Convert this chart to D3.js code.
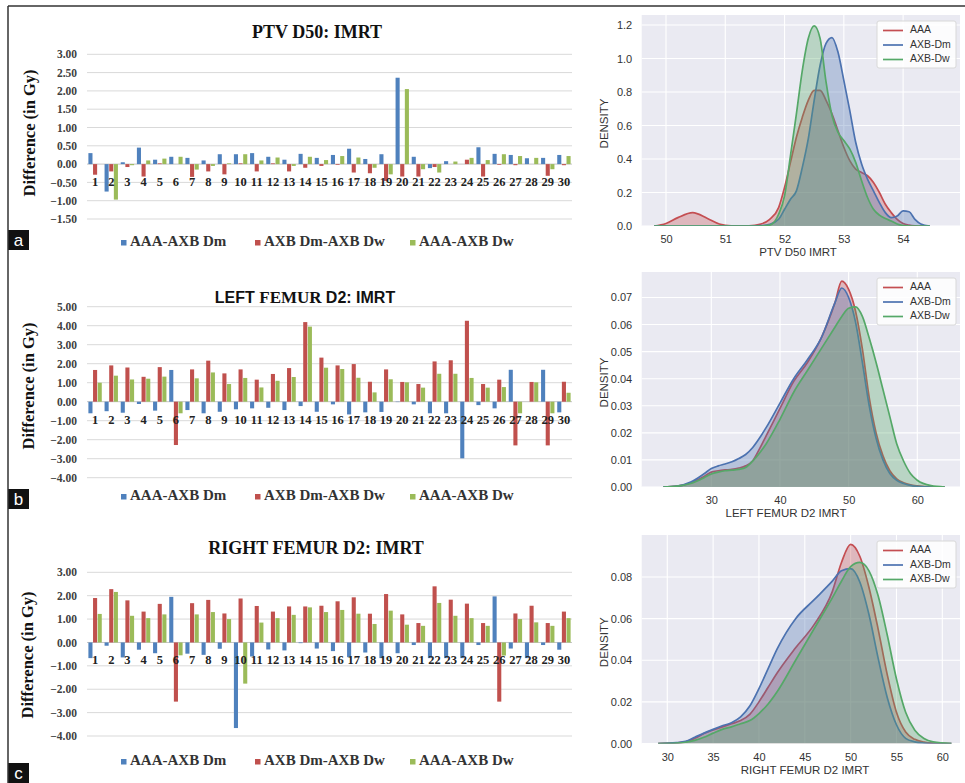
<!DOCTYPE html>
<html><head><meta charset="utf-8">
<script src="https://cdn.jsdelivr.net/npm/d3@7"></script>
<style>body{margin:0;background:#fff}svg{display:block}</style>
</head><body><svg id="chart" width="965" height="783"></svg>
<script>
// ---------- bar chart data ----------
const categories = ["1","2","3","4","5","6","7","8","9","10","11","12","13","14","15","16","17","18","19","20","21","22","23","24","25","26","27","28","29","30"];
const barSeries = ["AAA-AXB Dm","AXB Dm-AXB Dw","AAA-AXB Dw"];
const barColors = ["#4f81bd","#c0504d","#9bbb59"];

const ptvAAA_Dm = [0.30,-0.75,0.05,0.45,0.12,0.20,0.17,0.10,0.27,0.27,0.30,0.20,0.12,0.28,0.17,0.25,0.42,0.14,0.27,2.36,0.20,-0.11,0.08,0.00,0.46,0.28,0.25,0.16,0.17,0.25];
const ptvDm_Dw  = [-0.29,-0.20,-0.08,-0.34,0.02,0.00,-0.35,-0.20,-0.28,0.02,-0.20,0.02,-0.20,-0.10,-0.05,-0.02,-0.23,-0.25,-0.46,-0.34,-0.34,-0.08,0.00,0.12,-0.34,-0.02,-0.03,0.00,-0.32,-0.03];
const ptvAAA_Dw = [0.00,-0.97,-0.03,0.10,0.15,0.20,-0.15,-0.05,0.02,0.27,0.10,0.18,-0.05,0.20,0.11,0.22,0.18,-0.10,-0.28,2.05,-0.14,-0.23,0.07,0.17,0.11,0.27,0.22,0.17,-0.14,0.22];

const lfAAA_Dm = [-0.61,-0.50,-0.58,-0.12,-0.47,1.67,-0.44,-0.61,-0.53,-0.40,-0.35,-0.32,-0.44,-0.23,-0.53,-0.14,-0.67,-0.56,-0.54,-0.02,-0.14,-0.61,-0.61,-2.98,-0.18,-0.35,1.68,0.00,1.68,-0.56];
const lfDm_Dw  = [1.67,1.91,1.80,1.31,1.82,-2.28,1.70,2.16,1.49,1.70,1.16,1.46,1.77,4.19,2.32,1.91,1.98,1.05,1.70,1.04,0.93,2.12,2.18,4.26,0.93,1.16,-2.30,1.04,-2.30,1.05];
const lfAAA_Dw = [1.00,1.37,1.17,1.21,1.32,-0.61,1.23,1.54,0.93,1.25,0.75,1.10,1.30,3.95,1.79,1.72,1.26,0.49,1.18,1.02,0.74,1.47,1.47,1.25,0.74,0.77,-0.61,1.02,-0.61,0.47];

const rfAAA_Dm = [-0.67,-0.14,-0.64,-0.31,-0.46,1.95,-0.48,-0.53,-0.27,-3.66,-0.60,-0.30,-0.34,-0.03,-0.26,-0.37,-0.63,-0.43,-0.67,-0.46,-0.11,-0.67,-0.67,-0.67,-0.11,1.97,-0.26,-0.67,-0.11,-0.31];
const rfDm_Dw  = [1.90,2.28,1.80,1.32,1.65,-2.53,1.68,1.82,1.24,1.88,1.56,1.32,1.54,1.54,1.57,1.76,1.93,1.23,2.07,1.20,0.83,2.40,1.83,1.66,0.83,-2.53,1.24,1.57,0.83,1.32];
const rfAAA_Dw = [1.22,2.16,1.14,1.04,1.20,-0.55,1.20,1.30,1.00,-1.76,0.85,1.04,1.18,1.50,1.30,1.39,1.23,0.79,1.36,0.76,0.71,1.69,1.14,1.04,0.71,-0.56,1.00,0.86,0.71,1.04];

const ptvBarTicks = [-1.5,-1,-0.5,0,0.5,1,1.5,2,2.5,3];
const lfBarTicks = [-4,-3,-2,-1,0,1,2,3,4,5];
const rfBarTicks = [-4,-3,-2,-1,0,1,2,3];

// ---------- density data ----------
const densSeries = ["AAA","AXB-Dm","AXB-Dw"];
const densColors = ["#c44e52","#4c72b0","#55a868"];

const ptvX      = [49.8,50.0,50.2,50.45,50.7,50.9,51.1,51.4,51.6,51.75,51.9,52.0,52.1,52.2,52.3,52.4,52.5,52.6,52.7,52.8,52.9,53.0,53.1,53.2,53.3,53.4,53.5,53.6,53.7,53.8,53.9,54.0,54.1,54.2,54.3,54.45];
const ptvAAA    = [0,0.015,0.05,0.08,0.045,0.012,0.001,0.001,0.012,0.04,0.11,0.23,0.38,0.53,0.65,0.75,0.81,0.81,0.75,0.67,0.57,0.47,0.39,0.34,0.32,0.30,0.26,0.20,0.13,0.08,0.04,0.015,0.005,0.001,0,0];
const ptvAXBDm  = [0,0,0,0,0,0,0,0,0.002,0.01,0.04,0.10,0.16,0.21,0.35,0.52,0.75,0.96,1.09,1.125,1.04,0.87,0.69,0.50,0.37,0.28,0.21,0.14,0.08,0.05,0.06,0.09,0.085,0.04,0.012,0];
const ptvAXBDw  = [0,0,0,0,0,0,0,0,0,0.005,0.07,0.18,0.42,0.67,0.93,1.12,1.195,1.12,0.86,0.66,0.56,0.51,0.46,0.38,0.27,0.17,0.10,0.065,0.045,0.03,0.012,0.003,0,0,0,0];

const lfX       = [23,25,27,29,30,31,32,33,34,35,36,37,38,40,42,44,46,48,49,50,51,52,53,54,55,56,57,58,59,60,62,64];
const lfAAA     = [0,0.0003,0.0015,0.004,0.0055,0.006,0.0063,0.0065,0.007,0.0078,0.0096,0.014,0.019,0.029,0.039,0.046,0.055,0.068,0.076,0.073,0.065,0.051,0.033,0.020,0.0115,0.006,0.003,0.0016,0.0008,0.0004,0,0];
const lfAXBDm   = [0,0.0003,0.0018,0.005,0.0068,0.0078,0.0085,0.0093,0.0105,0.012,0.0145,0.018,0.022,0.031,0.040,0.047,0.055,0.068,0.0735,0.070,0.061,0.046,0.030,0.018,0.010,0.005,0.0025,0.0013,0.0006,0.0002,0,0];
const lfAXBDw   = [0,0.0003,0.0013,0.0035,0.0048,0.0055,0.006,0.0062,0.0065,0.0072,0.0095,0.0125,0.016,0.025,0.035,0.043,0.051,0.059,0.063,0.066,0.0665,0.063,0.055,0.046,0.036,0.026,0.016,0.0096,0.005,0.0025,0.0005,0];

const rfX       = [29,31,32,33,34,35,36,37,38,39,40,41,42,44,46,48,49,50,51,52,53,54,55,56,57,58,59,61];
const rfAAA     = [0,0.0003,0.0008,0.0025,0.0048,0.0065,0.008,0.0095,0.011,0.014,0.020,0.027,0.034,0.046,0.057,0.073,0.087,0.0957,0.090,0.075,0.055,0.033,0.015,0.0055,0.002,0.0007,0.0002,0];
const rfAXBDm   = [0,0.0004,0.001,0.003,0.005,0.0068,0.0085,0.010,0.0128,0.018,0.0264,0.036,0.0456,0.060,0.069,0.078,0.083,0.084,0.0776,0.062,0.041,0.022,0.009,0.0025,0.0008,0.0002,0,0];
const rfAXBDw   = [0,0.0002,0.0006,0.0015,0.003,0.005,0.0068,0.008,0.0095,0.011,0.0144,0.019,0.025,0.040,0.055,0.070,0.078,0.085,0.087,0.083,0.071,0.052,0.031,0.015,0.0064,0.0024,0.0008,0];

const ptvDensXTicks = [50,51,52,53,54];
const ptvDensYTicks = [0,0.2,0.4,0.6,0.8,1.0,1.2];
const lfDensXTicks = [30,40,50,60];
const lfDensYTicks = [0,0.01,0.02,0.03,0.04,0.05,0.06,0.07];
const rfDensXTicks = [30,35,40,45,50,55,60];
const rfDensYTicks = [0,0.02,0.04,0.06,0.08];

// ---------- drawing ----------
const svg = d3.select("#chart");
svg.append("rect").attr("width",965).attr("height",783).attr("fill","#fff");
const SERIF = "'Liberation Serif','Times New Roman',serif";
const SANS = "'Liberation Sans',Arial,sans-serif";

function drawBarPanel(cfg) {
  const g = svg.append("g");
  const x0 = d3.scaleBand().domain(categories).range([87, 572]);
  const x1 = d3.scaleBand().domain(barSeries).range([1.4, x0.bandwidth() - 1.4]).paddingInner(0.12);
  const y = d3.scaleLinear().domain(cfg.yDomain).range(cfg.yRange);

  g.append("g").selectAll("line").data(cfg.ticks).join("line")
    .attr("x1", 87).attr("x2", 572)
    .attr("y1", d => y(d)).attr("y2", d => y(d))
    .attr("stroke", d => d === 0 ? "#c4c4c4" : "#d9d9d9").attr("stroke-width", 1);

  const ax = g.append("g").attr("transform", "translate(87,0)")
    .call(d3.axisLeft(y).tickValues(cfg.ticks).tickSize(0).tickPadding(10).tickFormat(d3.format(".2f")));
  ax.select(".domain").remove();
  ax.selectAll("text").attr("font-family", SERIF).attr("font-weight", "bold").attr("font-size", 11.5).attr("fill", "#404040");

  const rows = categories.map((c, i) => ({c, vals: cfg.data.map((arr, k) => ({s: barSeries[k], v: arr[i], k}))}));
  g.append("g").selectAll("g").data(rows).join("g")
    .attr("transform", d => `translate(${x0(d.c)},0)`)
    .selectAll("rect").data(d => d.vals).join("rect")
    .attr("x", d => x1(d.s)).attr("width", x1.bandwidth())
    .attr("y", d => y(Math.max(0, d.v)))
    .attr("height", d => Math.abs(y(d.v) - y(0)))
    .attr("fill", d => barColors[d.k]);

  const cx = g.append("g").attr("transform", `translate(0,${y(0)})`)
    .call(d3.axisBottom(x0).tickSize(0).tickPadding(13));
  cx.select(".domain").remove();
  cx.selectAll("text").attr("font-family", SERIF).attr("font-weight", "bold").attr("font-size", 12.5).attr("fill", "#222");

  const t = g.append("text").attr("x", cfg.titleX).attr("y", cfg.titleY).attr("text-anchor", "middle")
    .attr("font-weight", "bold").attr("fill", "#111");
  cfg.title.forEach(p => t.append("tspan").attr("font-family", p.sans ? SANS : SERIF).attr("font-size", p.size).text(p.t));

  g.append("text").attr("transform", `translate(${cfg.ylabX},${cfg.ylabY}) rotate(-90)`)
    .attr("text-anchor", "middle").attr("dominant-baseline", "middle")
    .attr("font-family", SERIF).attr("font-weight", "bold").attr("font-size", 16.5).attr("fill", "#111")
    .text("Difference (in Gy)");

  const legX = [121, 255, 410];
  barSeries.forEach((s, k) => {
    g.append("rect").attr("x", legX[k]).attr("y", cfg.legY - 3).attr("width", 5.5).attr("height", 5.5).attr("fill", barColors[k]);
    g.append("text").attr("x", legX[k] + 9).attr("y", cfg.legY).attr("dominant-baseline", "middle")
      .attr("font-family", SERIF).attr("font-weight", "bold").attr("font-size", 15).attr("fill", "#333").text(s);
  });

  g.append("rect").attr("x", 8).attr("y", cfg.letY).attr("width", 21).attr("height", 20).attr("fill", "#111");
  g.append("text").attr("x", 18.5).attr("y", cfg.letY + 10).attr("text-anchor", "middle").attr("dominant-baseline", "central")
    .attr("font-family", SANS).attr("font-size", 17).attr("fill", "#fff").text(cfg.letter);
}

drawBarPanel({data: [ptvAAA_Dm, ptvDm_Dw, ptvAAA_Dw], yDomain: [-1.5, 3], yRange: [219, 54.3], ticks: ptvBarTicks,
  title: [{t: "PTV D50: IMRT", size: 18}], titleX: 317, titleY: 38, ylabX: 31, ylabY: 133, legY: 243, letY: 230, letter: "a"});
drawBarPanel({data: [lfAAA_Dm, lfDm_Dw, lfAAA_Dw], yDomain: [-4, 5], yRange: [477.7, 306.7], ticks: lfBarTicks,
  title: [{t: "LEFT ", size: 16, sans: true}, {t: "FEMUR ", size: 17}, {t: "D2: IMRT", size: 16, sans: true}], titleX: 305, titleY: 303, ylabX: 30, ylabY: 386, legY: 497, letY: 489, letter: "b"});
drawBarPanel({data: [rfAAA_Dm, rfDm_Dw, rfAAA_Dw], yDomain: [-4, 3], yRange: [736, 572.3], ticks: rfBarTicks,
  title: [{t: "RIGHT FEMUR D2: IMRT", size: 18}], titleX: 316, titleY: 554, ylabX: 29, ylabY: 655, legY: 762, letY: 763, letter: "c"});

function drawDensity(cfg) {
  const g = svg.append("g");
  const L = 641.7, R = 960;
  const x = d3.scaleLinear().domain(cfg.xDomain).range([L, R]);
  const y = d3.scaleLinear().domain([0, cfg.yMax]).range([cfg.zeroY, cfg.top]);
  g.append("rect").attr("x", L).attr("y", cfg.top).attr("width", R - L).attr("height", cfg.zeroY - cfg.top).attr("fill", "#eaeaf2");
  g.append("g").selectAll("line").data(cfg.xTicks).join("line")
    .attr("x1", d => x(d)).attr("x2", d => x(d)).attr("y1", cfg.top).attr("y2", cfg.zeroY)
    .attr("stroke", "#fff").attr("stroke-width", 1.1);
  g.append("g").selectAll("line").data(cfg.yTicks).join("line")
    .attr("x1", L).attr("x2", R).attr("y1", d => y(d)).attr("y2", d => y(d))
    .attr("stroke", "#fff").attr("stroke-width", 1.1);

  const clipId = "clip" + cfg.id;
  g.append("clipPath").attr("id", clipId).append("rect").attr("x", L).attr("y", cfg.top).attr("width", R - L).attr("height", cfg.zeroY - cfg.top);
  const area = d3.area().x(d => x(d[0])).y0(y(0)).y1(d => y(d[1])).curve(d3.curveMonotoneX);
  const line = d3.line().x(d => x(d[0])).y(d => y(d[1])).curve(d3.curveMonotoneX);
  const pg = g.append("g").attr("clip-path", `url(#${clipId})`);
  cfg.series.forEach((arr, k) => {
    const pts = cfg.xs.map((xv, i) => [xv, arr[i]]);
    pg.append("path").datum(pts).attr("d", area).attr("fill", densColors[k]).attr("fill-opacity", 0.33);
    pg.append("path").datum(pts).attr("d", line).attr("fill", "none").attr("stroke", densColors[k]).attr("stroke-width", 1.7);
  });

  const ay = g.append("g").attr("transform", `translate(${L},0)`)
    .call(d3.axisLeft(y).tickValues(cfg.yTicks).tickSize(0).tickPadding(9.5).tickFormat(d3.format(cfg.yFmt)));
  ay.select(".domain").remove();
  ay.selectAll("text").attr("font-family", SANS).attr("font-size", 11).attr("fill", "#333");
  const axb = g.append("g").attr("transform", `translate(0,${cfg.zeroY})`)
    .call(d3.axisBottom(x).tickValues(cfg.xTicks).tickSize(0).tickPadding(9.5).tickFormat(d3.format("d")));
  axb.select(".domain").remove();
  axb.selectAll("text").attr("font-family", SANS).attr("font-size", 11).attr("fill", "#333");

  g.append("text").attr("x", cfg.xlabX).attr("y", cfg.zeroY + 27).attr("text-anchor", "middle").attr("dominant-baseline", "middle")
    .attr("font-family", SANS).attr("font-size", 11.5).attr("fill", "#333").text(cfg.xlab);
  g.append("text").attr("transform", `translate(605,${(cfg.top + cfg.zeroY) / 2 + 3}) rotate(-90)`)
    .attr("text-anchor", "middle").attr("dominant-baseline", "middle")
    .attr("font-family", SANS).attr("font-size", 11.5).attr("fill", "#333").text("DENSITY");

  const lx = R - 83, ly = cfg.top + 6;
  g.append("rect").attr("x", lx).attr("y", ly).attr("width", 79).attr("height", 47).attr("rx", 2)
    .attr("fill", "#fff").attr("fill-opacity", 0.85).attr("stroke", "#d8d8d8");
  densSeries.forEach((s, k) => {
    const yy = ly + 9.5 + k * 14.5;
    g.append("line").attr("x1", lx + 6).attr("x2", lx + 26).attr("y1", yy).attr("y2", yy).attr("stroke", densColors[k]).attr("stroke-width", 1.7);
    g.append("text").attr("x", lx + 33).attr("y", yy).attr("dominant-baseline", "middle")
      .attr("font-family", SANS).attr("font-size", 10.5).attr("fill", "#333").text(s);
  });
}

drawDensity({id: "a", xs: ptvX, series: [ptvAAA, ptvAXBDm, ptvAXBDw], xDomain: [49.59, 54.96], yMax: 1.26, top: 15, zeroY: 226,
  xTicks: ptvDensXTicks, yTicks: ptvDensYTicks, yFmt: ".1f", xlab: "PTV D50 IMRT", xlabX: 798});
drawDensity({id: "b", xs: lfX, series: [lfAAA, lfAXBDm, lfAXBDw], xDomain: [19.86, 66.22], yMax: 0.0794, top: 272, zeroY: 487,
  xTicks: lfDensXTicks, yTicks: lfDensYTicks, yFmt: ".2f", xlab: "LEFT FEMUR D2 IMRT", xlabX: 786});
drawDensity({id: "c", xs: rfX, series: [rfAAA, rfAXBDm, rfAXBDw], xDomain: [27.21, 61.93], yMax: 0.1002, top: 535, zeroY: 743.5,
  xTicks: rfDensXTicks, yTicks: rfDensYTicks, yFmt: ".2f", xlab: "RIGHT FEMUR D2 IMRT", xlabX: 805});

// figure frame
svg.append("line").attr("x1", 8).attr("x2", 965).attr("y1", 6).attr("y2", 6).attr("stroke", "#333").attr("stroke-width", 1.5);
svg.append("line").attr("x1", 8).attr("x2", 8).attr("y1", 6).attr("y2", 783).attr("stroke", "#333").attr("stroke-width", 1.5);
</script></body></html>
